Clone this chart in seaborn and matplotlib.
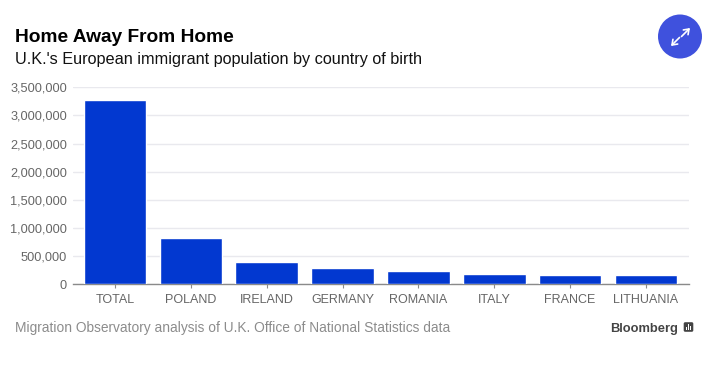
import matplotlib
matplotlib.use("Agg")
import matplotlib.pyplot as plt
from matplotlib.patches import Circle, FancyBboxPatch, Rectangle
from matplotlib.ticker import FuncFormatter
import pandas as pd
import seaborn as sns

countries = ["TOTAL", "POLAND", "IRELAND", "GERMANY", "ROMANIA", "ITALY", "FRANCE", "LITHUANIA"]
population = [3270000, 825000, 395000, 285000, 230000, 185000, 165000, 165000]
y_ticks = [0, 500000, 1000000, 1500000, 2000000, 2500000, 3000000, 3500000]

title = "Home Away From Home"
subtitle = "U.K.'s European immigrant population by country of birth"
source = "Migration Observatory analysis of U.K. Office of National Statistics data"
brand = "Bloomberg"

sns.set_theme(style="white")
plt.rcParams["font.family"] = ["Liberation Sans", "DejaVu Sans"]

W, H = 720, 368
fig = plt.figure(figsize=(W / 100, H / 100), dpi=100, facecolor="white")
ax = fig.add_axes([72.6 / W, 1 - 284.3 / H, (689 - 72.6) / W, (284.3 - 87.3) / H])

df = pd.DataFrame({"country": countries, "population": population})
sns.barplot(data=df, x="country", y="population", color="#0238d0", saturation=1,
            width=0.825, ax=ax, zorder=3)

ax.set_xlim(-0.56, 7.568)
ax.set_ylim(0, 3500000)
ax.set_yticks(y_ticks)
ax.yaxis.set_major_formatter(FuncFormatter(lambda v, _: f"{int(v):,}"))
ax.set_xlabel("")
ax.set_ylabel("")
ax.grid(axis="y", color="#e9e9ee", linewidth=1, zorder=0)
ax.set_axisbelow(True)
for s in ["top", "left", "right"]:
    ax.spines[s].set_visible(False)
ax.spines["bottom"].set_color("#8a8a8a")
ax.spines["bottom"].set_linewidth(1)
ax.tick_params(axis="y", length=0, pad=4, labelsize=9.2, labelcolor="#666666")
ax.tick_params(axis="x", length=3, width=0.8, color="#8a8a8a", pad=4, labelsize=9, labelcolor="#666666", bottom=True)

def px(x, y):
    return x / W, 1 - y / H

x, y = px(15, 42.5)
fig.text(x, y, title, fontsize=13.8, fontweight="bold", color="#000000", ha="left", va="baseline")
x, y = px(15, 64)
fig.text(x, y, subtitle, fontsize=11.7, color="#111111", ha="left", va="baseline")
x, y = px(15, 332)
fig.text(x, y, source, fontsize=9.9, color="#8c8c8c", ha="left", va="baseline")
x, y = px(678, 332)
fig.text(x, y, brand, fontsize=9.3, fontweight="bold", color="#444444", ha="right", va="baseline")

# overlay in pixel coordinates for the expand badge and logo
ov = fig.add_axes([0, 0, 1, 1], facecolor="none")
ov.set_xlim(0, W)
ov.set_ylim(H, 0)
ov.axis("off")
ov.add_patch(Circle((680, 36.5), 22, facecolor="#3f51dd", edgecolor="none"))
arrow = dict(arrowstyle="->,head_length=0.28,head_width=0.2", color="white", lw=1.2, shrinkA=0, shrinkB=0)
ov.annotate("", xy=(690, 28), xytext=(681.5, 36.5), arrowprops=arrow)
ov.annotate("", xy=(671, 46), xytext=(679.5, 37.5), arrowprops=arrow)
ov.add_patch(FancyBboxPatch((684.5, 323), 8, 8, boxstyle="round,pad=0.8,rounding_size=1.5",
                            facecolor="#444444", edgecolor="none"))
for bx, bh in zip((686, 688.2, 690.4), (3, 6, 4)):
    ov.add_patch(Rectangle((bx, 330 - bh), 0.9, bh, facecolor="white", edgecolor="none"))

fig.savefig("out.png", dpi=100, facecolor="white")
